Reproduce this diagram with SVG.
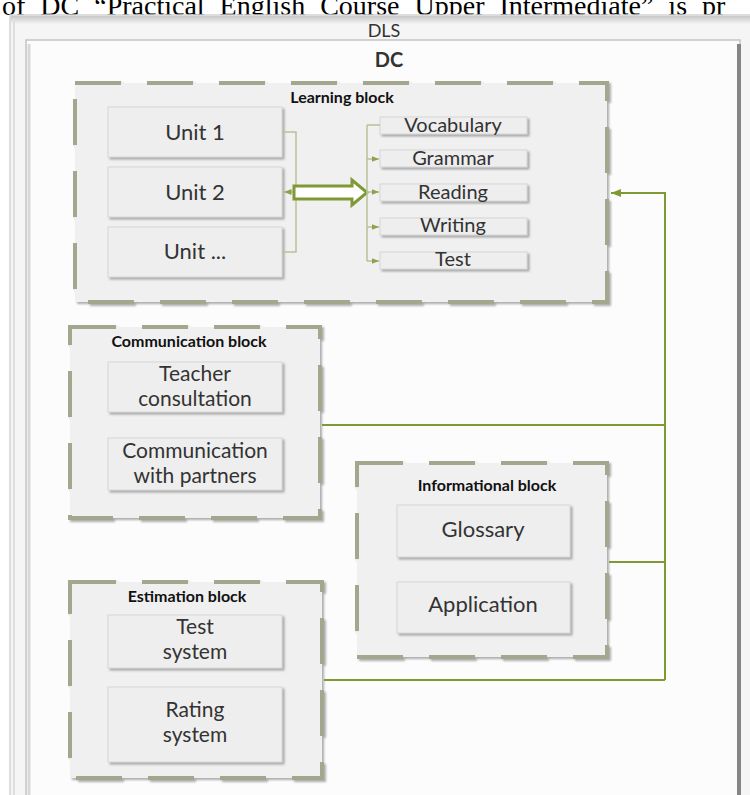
<svg xmlns="http://www.w3.org/2000/svg" width="750" height="795" viewBox="0 0 750 795">
<defs>
<style>
.blk{fill:#f0f0f0;stroke:#a3a78d;stroke-width:4;stroke-dasharray:46 26;filter:url(#sh)}
.box{fill:#eeeeee;stroke:#d6d6d6;stroke-width:1;filter:url(#sh)}
.t{font-family:Lato,"Liberation Sans",sans-serif;fill:#333;text-anchor:middle}
.big{font-size:22px}
.two{font-size:21px}
.sm{font-size:20px}
.lbl{font-family:Lato,"Liberation Sans",sans-serif;font-weight:bold;fill:#111;text-anchor:middle;font-size:16px}
.g{fill:none;stroke:#7f9a34;stroke-width:2}
.br{fill:none;stroke:#b9c29a;stroke-width:1.5}
.hd{font-family:"Liberation Serif",serif;font-size:28px;fill:#000;word-spacing:8px}
</style>
<filter id="sh" x="-10%" y="-10%" width="130%" height="130%">
<feDropShadow dx="2" dy="2" stdDeviation="1" flood-color="#777" flood-opacity="0.6"/>
</filter>
<linearGradient id="topg" x1="0" y1="0" x2="0" y2="1">
<stop offset="0" stop-color="#c8c8c8"/>
<stop offset="1" stop-color="#f4f4f4"/>
</linearGradient>
<marker id="ah" viewBox="0 0 10 10" refX="10" refY="5" markerWidth="5" markerHeight="5" orient="auto">
<path d="M0,1 L10,5 L0,9 z" fill="#7f9a34"/>
</marker>
<marker id="ahs" viewBox="0 0 10 10" refX="10" refY="5" markerWidth="5" markerHeight="5" orient="auto">
<path d="M0,1 L10,5 L0,9 z" fill="#8ea24e"/>
</marker>
</defs>
<rect width="750" height="795" fill="#ffffff"/>
<g id="heading">
<text class="hd" x="2" y="15">of DC “Practical English Course Upper Intermediate” is pr</text>
</g>
<g id="dls">
<rect x="10" y="15" width="760" height="800" fill="#f5f5f5" stroke="#d4d4d4" stroke-width="1.5"/>
<rect x="11" y="16" width="758" height="8" fill="url(#topg)"/>
<line x1="14" y1="18" x2="14" y2="795" stroke="#dedede" stroke-width="2"/>
<text class="t" x="384" y="37" font-size="18" fill="#222">DLS</text>
</g>
<g id="dc">
<rect x="26" y="40" width="714" height="780" fill="#fcfcfc" stroke="#c4c4c4" stroke-width="1.5"/>
<line x1="29" y1="44" x2="29" y2="795" stroke="#d8d8d8" stroke-width="3"/>
<line x1="739" y1="44" x2="739" y2="795" stroke="#858585" stroke-width="4"/>
<text class="t" x="389" y="67" font-size="20" font-weight="bold" fill="#111">DC</text>
</g>
<g id="learning">
<rect class="blk" x="75" y="83" width="532" height="219"/>
<text class="lbl" x="342" y="103" font-size="13">Learning block</text>
</g>
<g id="unit1"><rect class="box" x="108" y="107" width="174" height="50"/><text class="t big" x="195" y="140">Unit 1</text></g>
<g id="unit2"><rect class="box" x="108" y="167" width="174" height="50"/><text class="t big" x="195" y="200">Unit 2</text></g>
<g id="unit3"><rect class="box" x="108" y="227" width="174" height="50"/><text class="t big" x="195" y="259">Unit ...</text></g>
<g id="vocabulary"><rect class="box" x="380" y="117" width="147" height="17"/><text class="t sm" x="453" y="132">Vocabulary</text></g>
<g id="grammar"><rect class="box" x="380" y="150" width="147" height="17"/><text class="t sm" x="453" y="165">Grammar</text></g>
<g id="reading"><rect class="box" x="380" y="184" width="147" height="17"/><text class="t sm" x="453" y="199">Reading</text></g>
<g id="writing"><rect class="box" x="380" y="218" width="147" height="17"/><text class="t sm" x="453" y="232">Writing</text></g>
<g id="test"><rect class="box" x="380" y="252" width="147" height="17"/><text class="t sm" x="453" y="266">Test</text></g>
<g id="communication">
<rect class="blk" x="70" y="327" width="250" height="191"/>
<text class="lbl" x="189" y="347">Communication block</text>
</g>
<g id="teacher"><rect class="box" x="108" y="362" width="174" height="50"/><text class="t two" x="195" y="381">Teacher</text><text class="t two" x="195" y="406">consultation</text></g>
<g id="partners"><rect class="box" x="108" y="438" width="174" height="52"/><text class="t two" x="195" y="458">Communication</text><text class="t two" x="195" y="483">with partners</text></g>
<g id="informational">
<rect class="blk" x="357" y="463" width="250" height="194"/>
<text class="lbl" x="487" y="491">Informational block</text>
</g>
<g id="glossary"><rect class="box" x="397" y="505" width="173" height="52"/><text class="t big" x="483" y="537">Glossary</text></g>
<g id="application"><rect class="box" x="397" y="582" width="173" height="51"/><text class="t big" x="483" y="612">Application</text></g>
<g id="estimation">
<rect class="blk" x="70" y="582" width="252" height="196"/>
<text class="lbl" x="187" y="602">Estimation block</text>
</g>
<g id="testsystem"><rect class="box" x="108" y="615" width="174" height="53"/><text class="t two" x="195" y="634">Test</text><text class="t two" x="195" y="659">system</text></g>
<g id="rating"><rect class="box" x="108" y="687" width="174" height="75"/><text class="t two" x="195" y="717">Rating</text><text class="t two" x="195" y="742">system</text></g>
<g id="connectors">
<polyline class="br" points="282,132 296,132 296,252 282,252"/>
<line class="br" x1="296" y1="192" x2="284" y2="192" marker-end="url(#ahs)"/>
<path d="M294,186 L352,186 L352,180 L367,192.5 L352,205 L352,199 L294,199 Z" fill="#ffffff" stroke="#7f9a34" stroke-width="3" stroke-linejoin="miter"/>
<line class="br" x1="367" y1="125" x2="367" y2="261"/>
<line class="br" x1="367" y1="125" x2="380" y2="125"/>
<line class="br" x1="367" y1="159" x2="379" y2="159" marker-end="url(#ahs)"/>
<line class="br" x1="367" y1="192" x2="379" y2="192" marker-end="url(#ahs)"/>
<line class="br" x1="367" y1="227" x2="379" y2="227" marker-end="url(#ahs)"/>
<line class="br" x1="367" y1="261" x2="379" y2="261" marker-end="url(#ahs)"/>
<polyline class="g" points="665,680 665,193 611,193" marker-end="url(#ah)"/>
<line class="g" x1="322" y1="425" x2="665" y2="425"/>
<line class="g" x1="609" y1="562" x2="665" y2="562"/>
<line class="g" x1="324" y1="680" x2="665" y2="680"/>
</g>
</svg>
